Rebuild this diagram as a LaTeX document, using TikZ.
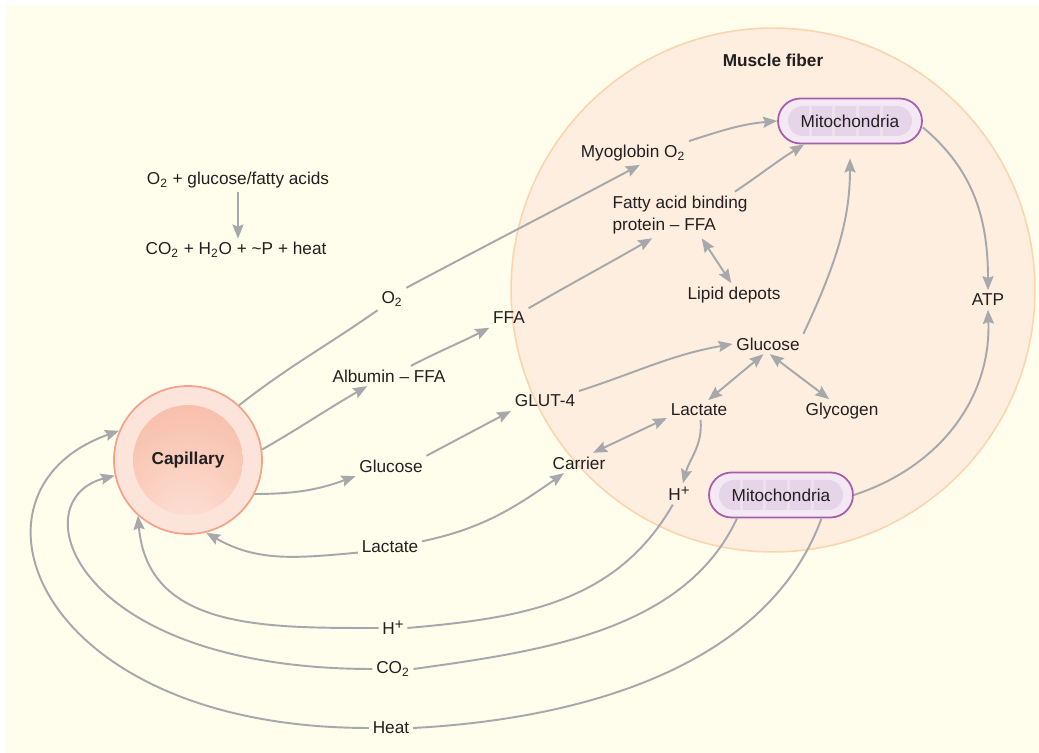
\documentclass[tikz,border=0pt]{standalone}
\usepackage{fontspec}
\setmainfont{Liberation Sans}
\usepackage{xcolor}
\usepackage{tikz}
\usetikzlibrary{arrows.meta,positioning,calc}

\definecolor{bgcream}{HTML}{FFFDEB}
\definecolor{fiberfill}{HTML}{FDEEDF}
\definecolor{fiberline}{HTML}{FCD4AE}
\definecolor{capfill}{HTML}{FDE4DB}
\definecolor{capline}{HTML}{F4A38A}
\definecolor{capwall}{HTML}{F5A68B}
\definecolor{capcore}{HTML}{FCDCD0}
\definecolor{mitoline}{HTML}{A65EAA}
\definecolor{mitofill}{HTML}{F3E8F4}
\definecolor{mitoin}{HTML}{E6D4E8}
\definecolor{flowgray}{HTML}{A6A8AB}
\definecolor{ink}{HTML}{231F20}

\pgfdeclareradialshading{capglow}{\pgfpoint{0bp}{-26bp}}{color(0bp)=(capcore); color(6bp)=(capcore); color(50bp)=(capwall)}

\newcommand{\hplus}{H\raisebox{0.55ex}{\fontsize{8.5}{9}\selectfont +}}

\begin{document}
\begin{tikzpicture}[x=0.02cm, y=0.02cm,
    lbl/.style={inner sep=2pt, text=ink, font=\fontsize{9.8}{13}\selectfont},
    title/.style={lbl, font=\fontsize{9.8}{13}\selectfont\bfseries},
    capillary/.style={circle, draw=capline, line width=1pt, fill=capfill,
        minimum size=2.96cm, inner sep=0pt, text=ink,
        font=\fontsize{9.8}{13}\selectfont\bfseries,
        path picture={\shade[shading=capglow] (path picture bounding box.center) circle (1.1cm);}},
    mito/.style={draw=mitoline, line width=1pt, fill=mitofill, rounded corners=0.45cm,
        minimum width=2.88cm, minimum height=0.9cm, inner sep=0pt, text=ink,
        font=\fontsize{9.8}{13}\selectfont,
        path picture={
            \fill[mitoin, rounded corners=0.3cm]
                ([shift={(-1.24cm,-0.3cm)}]path picture bounding box.center) rectangle
                ([shift={(1.24cm,0.3cm)}]path picture bounding box.center);
            \foreach \bl/\br in {-0.82/-0.76,-0.37/-0.31,0.11/0.17,0.6/0.66}
                \fill[mitofill!60!mitoin, sharp corners] ([shift={(\bl cm,-0.3cm)}]path picture bounding box.center) rectangle
                    ([shift={(\br cm,0.3cm)}]path picture bounding box.center);
        }},
    flow/.style={draw=flowgray, line width=1.1pt},
    flowto/.style={flow, -{Stealth[length=8pt,width=6.3pt,inset=1.2pt]}},
    flowboth/.style={flow, {Stealth[length=8pt,width=6.3pt,inset=1.2pt]}-{Stealth[length=8pt,width=6.3pt,inset=1.2pt]}}]

    \useasboundingbox (0,0) rectangle (1039,753);
    \fill[bgcream] (5,0) rectangle (1039,747);

    % muscle fiber
    \draw[fiberline, fill=fiberfill, line width=0.9pt] (773,463) circle (5.24cm);
    \node[title] (fiber) at (773,693) {Muscle fiber};

    \node[capillary] (cap) at (188,293) {Capillary};
    \node[mito] (mitoA) at (850,632) {Mitochondria};
    \node[mito] (mitoB) at (781,258) {Mitochondria};

    % inside the fiber
    \node[lbl] (myo) at (633,600) {Myoglobin O\textsubscript{2}};
    \node[lbl, align=left] (fabp) at (680,538) {Fatty acid binding\\protein – FFA};
    \node[lbl] (lipid) at (734,458) {Lipid depots};
    \node[lbl] (atp) at (988,453) {ATP};
    \node[lbl] (gluin) at (768,409) {Glucose};
    \node[lbl] (lacin) at (699,343) {Lactate};
    \node[lbl] (glyc) at (842,342) {Glycogen};
    \node[lbl] (carrier) at (579,290) {Carrier};
    \node[lbl] (hin) at (679,259) {\hplus};

    % between capillary and fiber
    \node[lbl] (glut) at (545,352) {GLUT-4};
    \node[lbl] (ffa) at (509,435) {FFA};
    \node[lbl] (oxy) at (392,454) {O\textsubscript{2}};
    \node[lbl] (alb) at (389,377) {Albumin – FFA};
    \node[lbl] (gluout) at (391,287) {Glucose};
    \node[lbl] (lacout) at (390,206) {Lactate};
    \node[lbl] (hout) at (393,125) {\hplus};
    \node[lbl] (co2) at (393,84) {CO\textsubscript{2}};
    \node[lbl] (heat) at (391,25) {Heat};

    \node[lbl] (react) at (238,573) {O\textsubscript{2} + glucose/fatty acids};
    \node[lbl] (prod) at (236,503) {CO\textsubscript{2} + H\textsubscript{2}O + \textasciitilde P + heat};
    \draw[flowto] (react.south) -- (react.south |- prod.north);

    % oxygen and fatty acids
    \draw[flow] (cap.47) to[out=38,in=215] (oxy.south west);
    \draw[flowto] (oxy.north east) to[out=28,in=208] (myo.-60);
    \draw[flowto] (myo.north east) to[out=18,in=185] (mitoA.west);
    \draw[flowto] (cap.8) to[out=30,in=210] (alb.-155);
    \draw[flowto] (alb.25) to[out=27,in=207] (ffa.south west);
    \draw[flowto] (ffa.north east) to[out=30,in=210] (fabp.-140);
    \draw[flowto] (fabp.23) to[out=34,in=212] (mitoA.-153);
    \draw[flowboth] (fabp.-47) -- (lipid.103);

    % glucose and lactate
    \draw[flowto] (cap.-27) to[out=0,in=200] (gluout.south west);
    \draw[flowto] (gluout.north east) -- (glut.south west);
    \draw[flowto] (glut.north east) to[out=18,in=190] (gluin.west);
    \draw[flowto, shorten >=8pt] (gluin.north east) to[out=65,in=-90] (mitoA.south);
    \draw[flowboth] (gluin.-114) -- (lacin.47);
    \draw[flowboth] (gluin.-80) -- (glyc.137);
    \draw[flowboth] (lacin.194) -- (carrier.36);
    \draw[flowto] (lacin.-81) to[out=-85,in=75] (hin.70);
    \draw[flowto] (lacout.10) to[out=12,in=215] (carrier.-146);
    \draw[flowto] (lacout.190) to[out=185,in=-30] (cap.-76);

    % back to the capillary
    \draw[flow] (hin.-120) to[out=-120,in=5] (hout.east);
    \draw[flowto] (hout.west) to[out=180,in=-85,looseness=1.1] (cap.-132);
    \draw[flow] (mitoB.-152) to[out=-115,in=8,looseness=0.9] (co2.east);
    \draw[flowto] (co2.west) .. controls +(-300,0) and +(-95,-25) .. (cap.-168);
    \draw[flow] (mitoB.-30) to[out=-110,in=3,looseness=0.9] (heat.east);
    \draw[flowto] (heat.west) .. controls +(-335,0) and +(-170,-60) .. (cap.157);

    % ATP
    \draw[flowto] (mitoA.-5) to[out=-40,in=90] (atp.north);
    \draw[flowto] (mitoB.east) to[out=18,in=-88] (atp.south);
\end{tikzpicture}
\end{document}
